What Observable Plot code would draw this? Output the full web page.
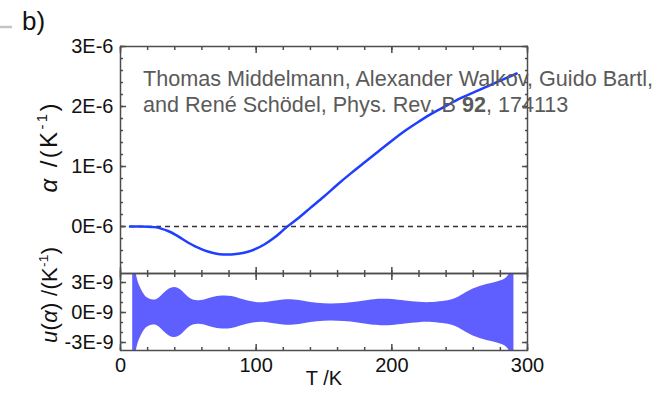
<!DOCTYPE html>
<html><head><meta charset="utf-8">
<script src="https://cdn.jsdelivr.net/npm/d3@7"></script>
<script src="https://cdn.jsdelivr.net/npm/@observablehq/plot@0.6"></script>
<style>
html,body{margin:0;padding:0;background:#fff;}
#wrap{position:relative;width:665px;height:396px;font-family:"Liberation Sans",Arial,sans-serif;}
#wrap svg{position:absolute;left:0;top:0;}
</style></head><body><div id="wrap"></div>
<script>
// Temperature (K) and expansion coefficient alpha (units of 1E-6 K^-1)
const temps = [7,15,20,25,30,35,40,45,50,55,60,65,70,76,82,88,94,100,106,112,118,123,130,140,150,160,170,180,190,200,210,220,230,240,250,260,270,280,292];
const alphaVals = [0,0,-0.002,-0.01,-0.035,-0.075,-0.13,-0.2,-0.27,-0.33,-0.38,-0.42,-0.45,-0.467,-0.465,-0.45,-0.42,-0.37,-0.3,-0.21,-0.1,0,0.12,0.31,0.5,0.7,0.89,1.07,1.25,1.43,1.6,1.75,1.89,2.01,2.13,2.23,2.33,2.43,2.55];
// Uncertainty half-width u(alpha) (units of 1E-9 K^-1)
const uTemps = [9,10,12,14,17,20,24,28,32,36,40,44,48,52,57,62,68,75,82,90,98,105,112,120,128,136,145,155,165,175,185,192,200,210,220,230,240,245,250,255,260,265,270,275,280,284,287,290];
const uVals = [6,5,3.6,2.7,1.9,1.45,1.25,1.4,1.9,2.35,2.5,2.3,1.8,1.35,1.17,1.25,1.5,1.65,1.6,1.3,1.05,0.98,1.1,1.25,1.25,1.1,0.92,0.85,0.9,1.05,1.25,1.32,1.3,1.15,1.02,1.0,1.15,1.3,1.6,2.0,2.35,2.6,2.8,2.95,3.15,3.4,3.9,4.5];
const xMajor = [0,100,200,300];
const xMinor = d3.range(0,16).map(i=>i*20);
const aMajor = [0,1,2,3];
const aMinor = d3.range(-3,16).map(i=>i/5);
const uMajor = [-3,0,3];
const uMinor = [-3,-2,-1,0,1,2,3];

const alphaData = temps.map((t,i)=>({T:t, a:alphaVals[i]}));
const uData = uTemps.map((t,i)=>({T:t, lo:-uVals[i], hi:uVals[i]}));

const FC = "#4d4d4d", FW = 1.5;
const FONT = '"Liberation Sans", Arial, sans-serif';
const common = {width:665, height:396, marginLeft:120, marginRight:138,
  style:{background:"transparent", overflow:"visible", fontFamily:FONT, fontSize:"20px", color:"#111"}};

function tickAxes(kind, ticks, size, anchors){
  const f = kind==="x" ? Plot.axisX : Plot.axisY;
  return anchors.map(an => f(ticks, {anchor:an, tickSize:-size, fill:"none", stroke:FC, strokeWidth:FW, label:null}));
}

const topChart = Plot.plot({...common, marginTop:46, marginBottom:123,
  x:{domain:[0,300], axis:null}, y:{domain:[-0.783,3], axis:null},
  marks:[
    Plot.ruleY([0], {stroke:"#333", strokeDasharray:"5,4", strokeWidth:1.3}),
    Plot.line(alphaData, {x:"T", y:"a", stroke:"#1f3fff", strokeWidth:2.5, curve:"natural"}),
    Plot.frame({stroke:FC, strokeWidth:FW}),
    ...tickAxes("x", xMajor, 6, ["top","bottom"]),
    ...tickAxes("x", xMinor, 3, ["top","bottom"]),
    ...tickAxes("y", aMajor, 6, ["left","right"]),
    ...tickAxes("y", aMinor, 3, ["left","right"]),
    Plot.axisY(aMajor, {anchor:"left", tickSize:0, tickPadding:7, tickFormat:d=>`${d}E-6`, fill:"#111", fontSize:20, label:null})
  ]});

const botChart = Plot.plot({...common, marginTop:273, marginBottom:46,
  x:{domain:[0,300], axis:null}, y:{domain:[-3.8,3.9], axis:null},
  marks:[
    Plot.areaY(uData, {x:"T", y1:"lo", y2:"hi", fill:"#5f5fff", curve:"natural", clip:true}),
    Plot.frame({stroke:FC, strokeWidth:FW}),
    ...tickAxes("x", xMajor, 6, ["top","bottom"]),
    ...tickAxes("x", xMinor, 3, ["top","bottom"]),
    ...tickAxes("y", uMajor, 6, ["left","right"]),
    ...tickAxes("y", uMinor, 3, ["left","right"]),
    Plot.axisY(uMajor, {anchor:"left", tickSize:0, tickPadding:7, tickFormat:d=>`${d}E-9`, fill:"#111", fontSize:20, label:null}),
    Plot.axisX(xMajor, {anchor:"bottom", tickSize:0, tickPadding:7, fill:"#111", fontSize:20, label:null}),
    Plot.text(["T /K"], {frameAnchor:"bottom", text:d=>d, dy:34, fontSize:20, fill:"#111"})
  ]});

const wrap = document.getElementById("wrap");
wrap.appendChild(botChart);
wrap.appendChild(topChart);

const s = d3.select(topChart);
// panel tag
s.append("line").attr("x1",0).attr("x2",12).attr("y1",27).attr("y2",27).attr("stroke","#c4c4c4").attr("stroke-width",2.5);
s.append("text").attr("x",22).attr("y",30).attr("text-anchor","start").attr("font-size",26).attr("fill","#111").attr("font-family",FONT).text("b)");
// citation
s.append("text").attr("x",143).attr("y",86).attr("text-anchor","start").attr("font-size",21.6).attr("fill","#5a5a5a").attr("font-family",FONT)
  .text("Thomas Middelmann, Alexander Walkov, Guido Bartl,");
const ann2 = s.append("text").attr("x",143).attr("y",112).attr("text-anchor","start").attr("font-size",21.6).attr("fill","#5a5a5a").attr("font-family",FONT);
ann2.append("tspan").text("and René Schödel, Phys. Rev. B ");
ann2.append("tspan").attr("font-weight","bold").text("92");
ann2.append("tspan").text(", 174113");
// y labels
function ylab(cx, cy, size, len, parts){
  const t = s.append("text").attr("transform",`translate(${cx},${cy}) rotate(-90)`).attr("text-anchor","middle")
    .attr("font-size",size).attr("fill","#111").attr("font-family",FONT)
    .attr("textLength",len).attr("lengthAdjust","spacing");
  parts.forEach(p=>{
    const ts = t.append("tspan").text(p.t);
    if(p.i) ts.attr("font-style","italic");
    if(p.sup) ts.attr("font-size",size*0.62).attr("dy",-size*0.42);
    if(p.down) ts.attr("dy",size*0.42);
  });
}
ylab(57,148,24,89,[{t:"α",i:true},{t:" /(K"},{t:"-1",sup:true},{t:")",down:true}]);
ylab(57,295,22,96,[{t:"u",i:true},{t:"("},{t:"α",i:true},{t:")"},{t:" /(K"},{t:"-1",sup:true},{t:")",down:true}]);
</script></body></html>
